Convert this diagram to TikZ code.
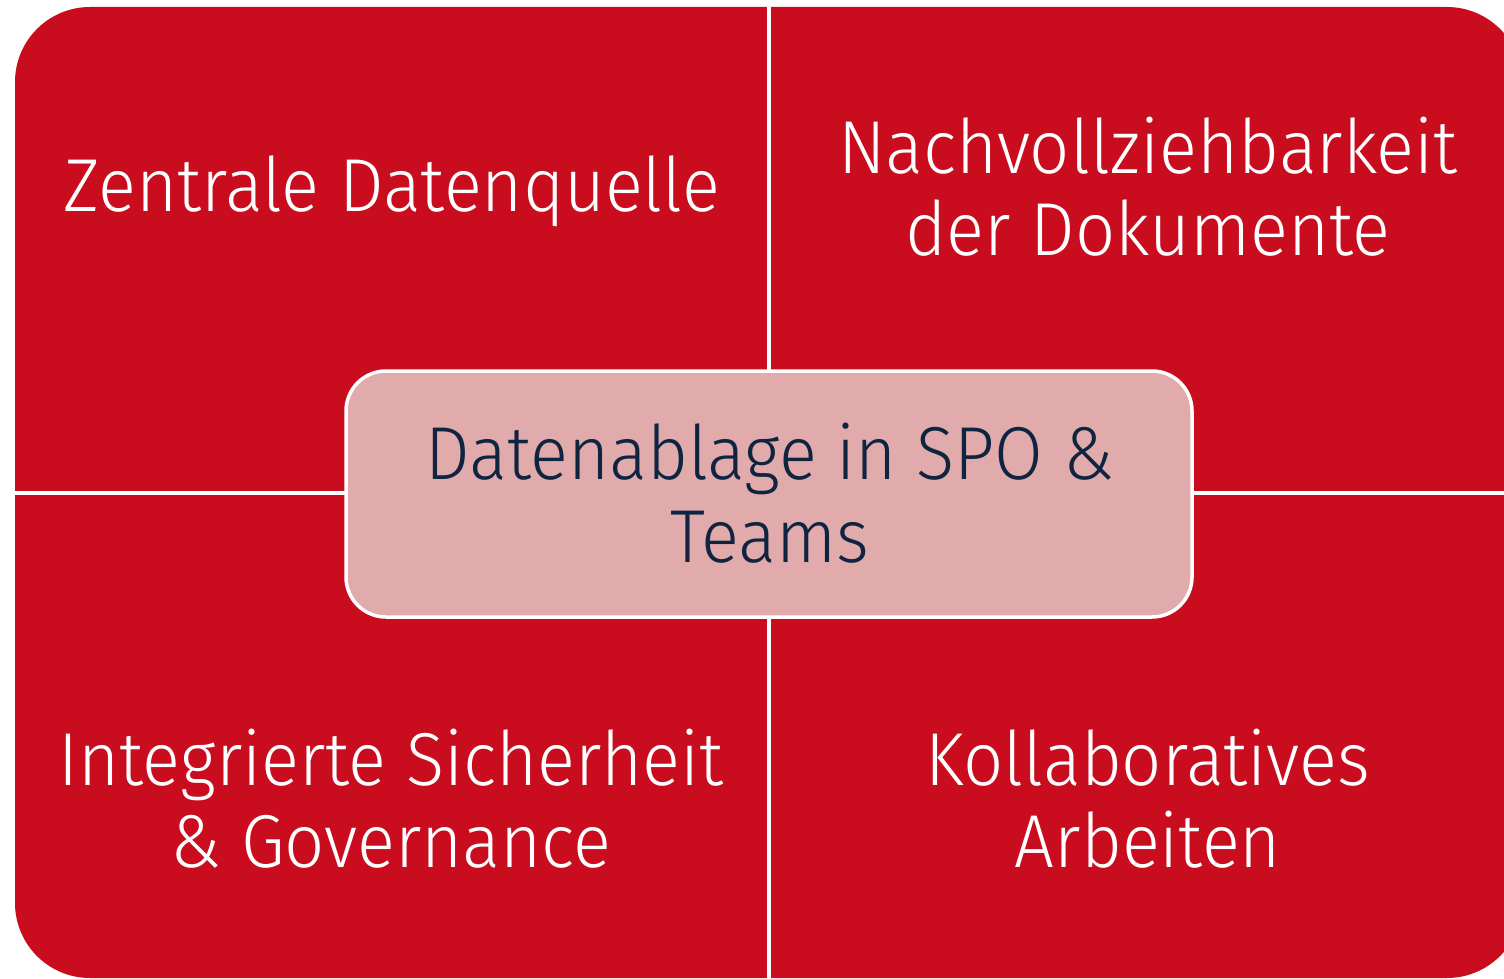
\documentclass[tikz,border=0pt]{standalone}
\usepackage{fontspec}
\setmainfont{Fira Sans Light}[FakeStretch=0.94]
\definecolor{bgred}{HTML}{C90C1E}
\definecolor{boxpink}{HTML}{E1AAAB}
\definecolor{navy}{HTML}{0E2441}
\begin{document}
\begin{tikzpicture}[x=1pt,y=-1pt,
  quadtext/.style={text=white,align=center,font=\fontsize{75}{82}\selectfont},
  sepline/.style={draw=white,line width=3.5pt}]
\useasboundingbox (0,0) rectangle (1504,979);
\begin{scope}
\clip (0,0) rectangle (1504,979);
\fill[bgred,rounded corners=75pt] (15,7) rectangle (1522,978);
\end{scope}
\coordinate (vtop) at (769,7);
\coordinate (vbot) at (769,979);
\coordinate (hl) at (15,493);
\coordinate (hr) at (1504,493);
\draw[sepline] (vtop) -- (vbot);
\draw[sepline] (hl) -- (hr);
\node[draw=white,line width=3.5pt,fill=boxpink,rounded corners=40pt,minimum width=846pt,minimum height=246pt] (center) at (769,494) {};
\node[text=navy,align=center,font=\fontsize{75}{83}\selectfont] (ctext) at (770,493) {Datenablage in SPO \&\\Teams};
\node[quadtext] (tl) at (392,191) {Zentrale Datenquelle};
\node[quadtext] (tr) at (1148,187) {Nachvollziehbarkeit\\der Dokumente};
\node[quadtext] (bl) at (391,799) {Integrierte Sicherheit\\\& Governance};
\node[quadtext] (br) at (1148,799) {Kollaboratives\\Arbeiten};
\end{tikzpicture}
\end{document}
